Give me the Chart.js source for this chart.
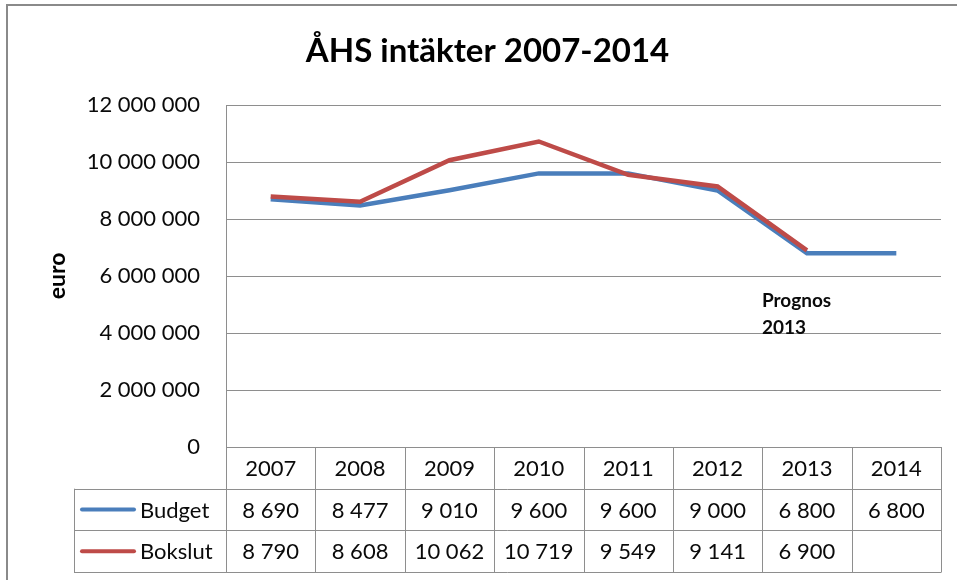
<!DOCTYPE html>
<html><head><meta charset="utf-8">
<script src="https://cdn.jsdelivr.net/npm/chart.js@4.4.1/dist/chart.umd.min.js"></script>
<style>html,body{margin:0;padding:0;background:#fff}#c{display:block}</style>
</head><body>
<canvas id="c" width="957" height="580"></canvas>
<script>
// ---- data (values in thousands of euro, as in the data table) ----
const years = ['2007', '2008', '2009', '2010', '2011', '2012', '2013', '2014'];
const budget = [8690, 8477, 9010, 9600, 9600, 9000, 6800, 6800];
const bokslut = [8790, 8608, 10062, 10719, 9549, 9141, 6900, null];
const seriesNames = ['Budget', 'Bokslut'];
const seriesColors = ['#4a7ebb', '#be4b48'];
const yTicks = [0, 2000, 4000, 6000, 8000, 10000, 12000];
const yTickLabels = ['0', '2 000 000', '4 000 000', '6 000 000', '8 000 000', '10 000 000', '12 000 000'];
const titleText = 'ÅHS intäkter 2007-2014';
const yAxisTitle = 'euro';
const noteLines = ['Prognos', '2013'];

const FONT = 'Lato, "Open Sans", sans-serif';
const GRID = '#8e8e8e';
const TEXT = '#0a0a0a';

function fmt(n) {
  return String(n).replace(/\B(?=(\d{3})+(?!\d))/g, ' ');
}

const tablePlugin = {
  id: 'dataTable',
  beforeDraw(chart) {
    const ctx = chart.ctx;
    ctx.save();
    ctx.fillStyle = '#fff';
    ctx.fillRect(0, 0, chart.width, chart.height);
    // outer frame (left + top edges)
    ctx.strokeStyle = '#8a8a8a';
    ctx.lineWidth = 2;
    ctx.beginPath();
    ctx.moveTo(7, chart.height);
    ctx.lineTo(7, 5);
    ctx.lineTo(chart.width, 5);
    ctx.stroke();
    ctx.restore();
  },
  afterDraw(chart) {
    const ctx = chart.ctx;
    const xs = chart.scales.x, ys = chart.scales.y;
    const area = chart.chartArea;
    const half = (xs.getPixelForValue(1) - xs.getPixelForValue(0)) / 2;
    const rowH = 41.7;
    const top = area.bottom;
    const r1 = top + rowH, r2 = top + 2 * rowH, r3 = top + 3 * rowH;
    const labelLeft = 74;
    const rows = [budget, bokslut];

    ctx.save();
    ctx.strokeStyle = GRID;
    ctx.lineWidth = 1;
    ctx.beginPath();
    // vertical column lines
    for (let i = 0; i <= years.length; i++) {
      const x = Math.round(xs.getPixelForValue(0) - half + i * 2 * half) + 0.5;
      ctx.moveTo(x, top);
      ctx.lineTo(x, r3);
    }
    ctx.moveTo(labelLeft + 0.5, r1);
    ctx.lineTo(labelLeft + 0.5, r3);
    [r1, r2, r3].forEach(y => {
      const yy = Math.round(y) + 0.5;
      ctx.moveTo(labelLeft, yy);
      ctx.lineTo(area.right + 0.5, yy);
    });
    ctx.stroke();

    ctx.fillStyle = TEXT;
    ctx.font = '22px ' + FONT;
    ctx.textAlign = 'center';
    ctx.textBaseline = 'middle';
    years.forEach((yr, i) => {
      ctx.fillText(yr, xs.getPixelForValue(i), top + rowH / 2 + 1);
    });
    rows.forEach((arr, r) => {
      const cy = top + rowH * (r + 1) + rowH / 2 + 1;
      arr.forEach((v, i) => {
        if (v !== null && v !== undefined) ctx.fillText(fmt(v), xs.getPixelForValue(i), cy);
      });
      // legend key
      ctx.save();
      ctx.strokeStyle = seriesColors[r];
      ctx.lineWidth = 4;
      ctx.lineCap = 'round';
      ctx.beginPath();
      ctx.moveTo(82, cy - 1);
      ctx.lineTo(134, cy - 1);
      ctx.stroke();
      ctx.restore();
      ctx.textAlign = 'left';
      ctx.fillText(seriesNames[r], 140, cy);
      ctx.textAlign = 'center';
    });

    // annotation
    ctx.font = 'bold 19px ' + FONT;
    ctx.textAlign = 'left';
    ctx.textBaseline = 'alphabetic';
    const nx = xs.getPixelForValue(6) - 45;
    const ny = ys.getPixelForValue(4900);
    ctx.fillText(noteLines[0], nx, ny);
    ctx.fillText(noteLines[1], nx, ny + 27);
    ctx.restore();
  }
};

new Chart(document.getElementById('c'), {
  type: 'line',
  data: {
    labels: years,
    datasets: [
      { label: seriesNames[0], data: budget, borderColor: seriesColors[0], backgroundColor: seriesColors[0],
        borderWidth: 4.5, pointRadius: 0, tension: 0, order: 1 },
      { label: seriesNames[1], data: bokslut, borderColor: seriesColors[1], backgroundColor: seriesColors[1],
        borderWidth: 4.5, pointRadius: 0, tension: 0, order: 0 }
    ]
  },
  options: {
    responsive: false,
    animation: false,
    events: [],
    layout: { padding: { top: 0, left: 34, right: 16, bottom: 133 } },
    plugins: {
      legend: { display: false },
      tooltip: { enabled: false },
      title: {
        display: true,
        text: titleText,
        color: '#000',
        font: { family: FONT, size: 33, weight: 'bold' },
        padding: { top: 32, bottom: 33.4 }
      }
    },
    scales: {
      x: {
        offset: true,
        grid: { display: false, drawTicks: false, offset: true },
        border: { display: false },
        ticks: { display: false }
      },
      y: {
        min: 0, max: 12000,
        afterBuildTicks: (s) => { s.ticks = yTicks.map(v => ({ value: v })); },
        afterFit: (s) => { s.width = 192; },
        grid: { color: GRID, drawTicks: false, lineWidth: 1 },
        border: { display: true, color: GRID, width: 1 },
        ticks: {
          padding: 26,
          color: TEXT,
          font: { family: FONT, size: 22 },
          callback: (v) => { const i = yTicks.indexOf(v); return i >= 0 ? yTickLabels[i] : ''; }
        },
        title: {
          display: true,
          text: yAxisTitle,
          color: '#000',
          font: { family: FONT, size: 23, weight: 'bold' },
          padding: { top: 10, bottom: 0 }
        }
      }
    }
  },
  plugins: [tablePlugin]
});
</script>
</body></html>
